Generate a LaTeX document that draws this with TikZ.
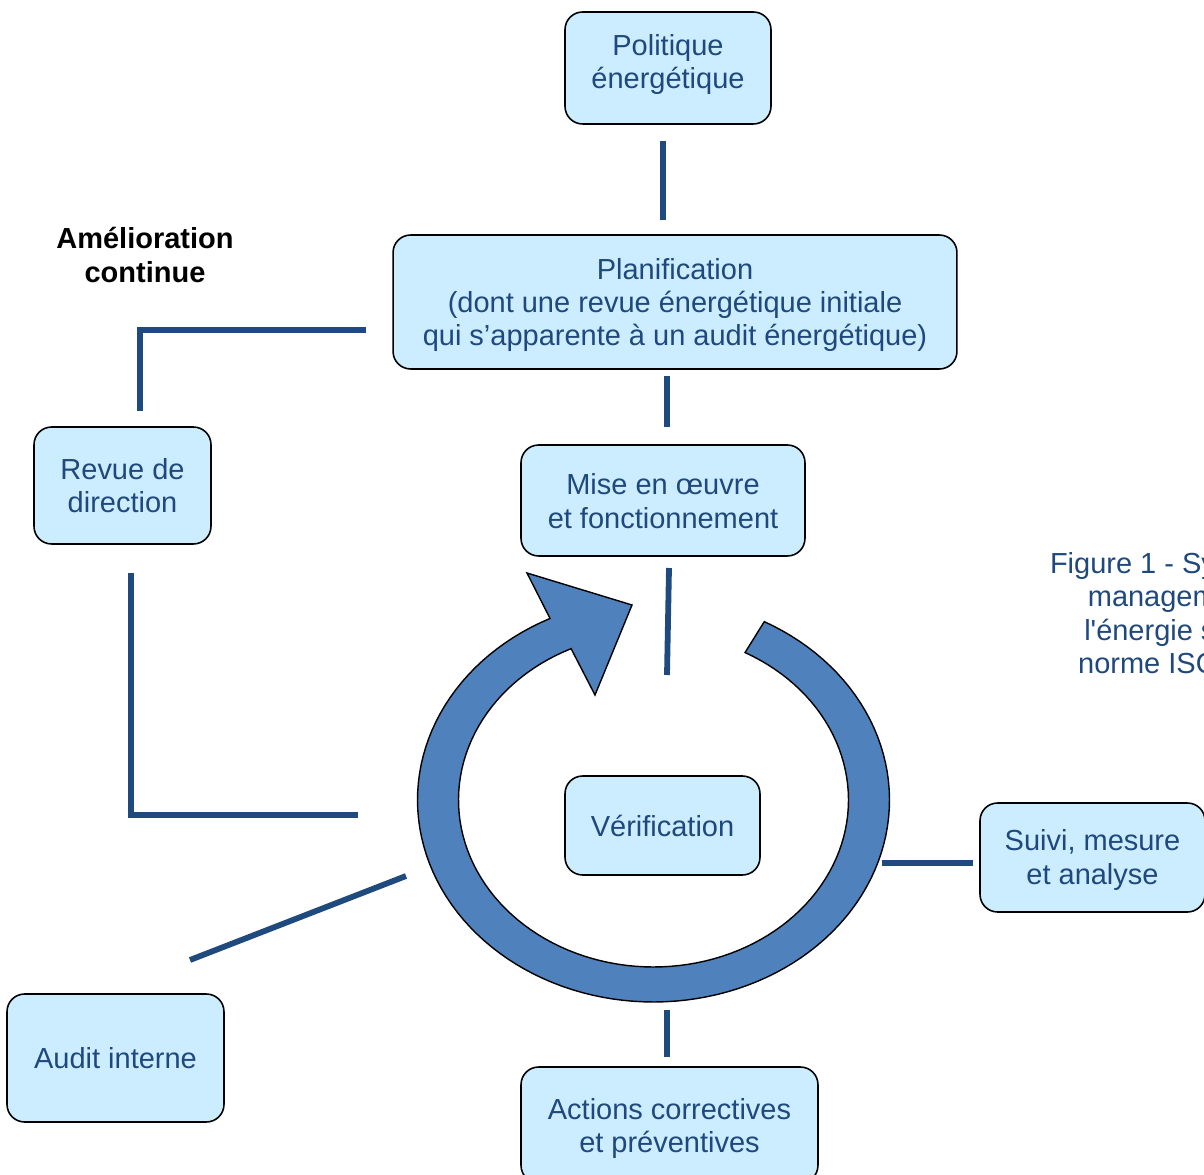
\documentclass[tikz,border=0pt]{standalone}
\usepackage{fontspec}
\setmainfont{Liberation Sans}
\definecolor{boxfill}{HTML}{CCECFF}
\definecolor{txtblue}{HTML}{1F497D}
\definecolor{linecol}{HTML}{1F4A7D}
\definecolor{arrowfill}{HTML}{4F81BD}
\newcommand{\diagfs}{\fontsize{16.5}{19.0}\selectfont}
\newcommand{\upstrut}[1]{\rule{0pt}{#1}}
\begin{document}
\begin{tikzpicture}[x=0.02cm,y=-0.02cm,
  box/.style={draw=black, line width=0.9pt, fill=boxfill, rounded corners=10pt,
    text=txtblue, align=center, inner sep=0pt, font=\diagfs},
  plaintxt/.style={text=txtblue, align=center, inner sep=0pt, font=\diagfs},
  conn/.style={draw=linecol, line width=3.3pt}]
\useasboundingbox (0,0) rectangle (1204,1175);
\clip (0,0) rectangle (1204,1175);

% circular arrow
\filldraw[fill=arrowfill, draw=black, line width=0.8pt]
  plot[domain=-62:244, samples=120] ({653.5+236*cos(\x)},{800+202*sin(\x)})
  -- (527,573) -- (632,605) -- (595,695)
  -- plot[domain=245:-62, samples=120] ({653.5+195*cos(\x)},{800+167*sin(\x)})
  -- cycle;

% boxes
\node[box, minimum width=4.12cm, minimum height=2.24cm] (pol) at (668,68) {};
\node[plaintxt] (poltxt) at (668,64.5) {Politique\\énergétique};
\node[box, minimum width=11.28cm, minimum height=2.68cm] (plan) at (675,302)
  {\upstrut{15.5pt}Planification\\(dont une revue énergétique initiale\\qui s’apparente à un audit énergétique)};
\node[box, minimum width=5.68cm, minimum height=2.22cm] (mise) at (663,500.5)
  {\upstrut{12.8pt}Mise en œuvre\\et fonctionnement};
\node[box, minimum width=3.54cm, minimum height=2.34cm] (revue) at (122.5,485.5)
  {Revue de\\direction};
\node[box, minimum width=3.9cm, minimum height=1.98cm] (verif) at (662.5,825.5)
  {Vérification};
\node[box, minimum width=4.5cm, minimum height=2.18cm] (suivi) at (1092.5,857.5)
  {\upstrut{14.6pt}Suivi, mesure\\et analyse};
\node[box, minimum width=4.34cm, minimum height=2.56cm] (audit) at (115.5,1058)
  {Audit interne};
\node[box, minimum width=5.94cm, minimum height=2.32cm] (actions) at (669.5,1125)
  {\upstrut{16pt}Actions correctives\\et préventives};

% labels
\node[align=center, inner sep=0pt, font=\diagfs\bfseries] (amel) at (145,255)
  {Amélioration\\continue};
\node[plaintxt] (caption) at (1192.6,613)
  {Figure 1 - Système de\\management de\\l\textquotesingle énergie selon la\\norme ISO 50001};

% connectors
\coordinate (c1a) at (663,141); \coordinate (c1b) at (663,220);
\draw[conn] (c1a) -- (c1b);
\coordinate (c2a) at (667,376); \coordinate (c2b) at (667,427);
\draw[conn] (c2a) -- (c2b);
\coordinate (c3a) at (669,568); \coordinate (c3b) at (667,675);
\draw[conn] (c3a) -- (c3b);
\coordinate (c4a) at (366,330); \coordinate (c4m) at (140,330); \coordinate (c4b) at (140,411);
\draw[conn] (c4a) -- (c4m) -- (c4b);
\coordinate (c5a) at (131,573); \coordinate (c5m) at (131,815); \coordinate (c5b) at (358,815);
\draw[conn] (c5a) -- (c5m) -- (c5b);
\coordinate (c6a) at (190,960); \coordinate (c6b) at (406,876);
\draw[conn] (c6a) -- (c6b);
\coordinate (c7a) at (882,863); \coordinate (c7b) at (973,863);
\draw[conn] (c7a) -- (c7b);
\coordinate (c8a) at (667,1010); \coordinate (c8b) at (667,1057);
\draw[conn] (c8a) -- (c8b);
\end{tikzpicture}
\end{document}
